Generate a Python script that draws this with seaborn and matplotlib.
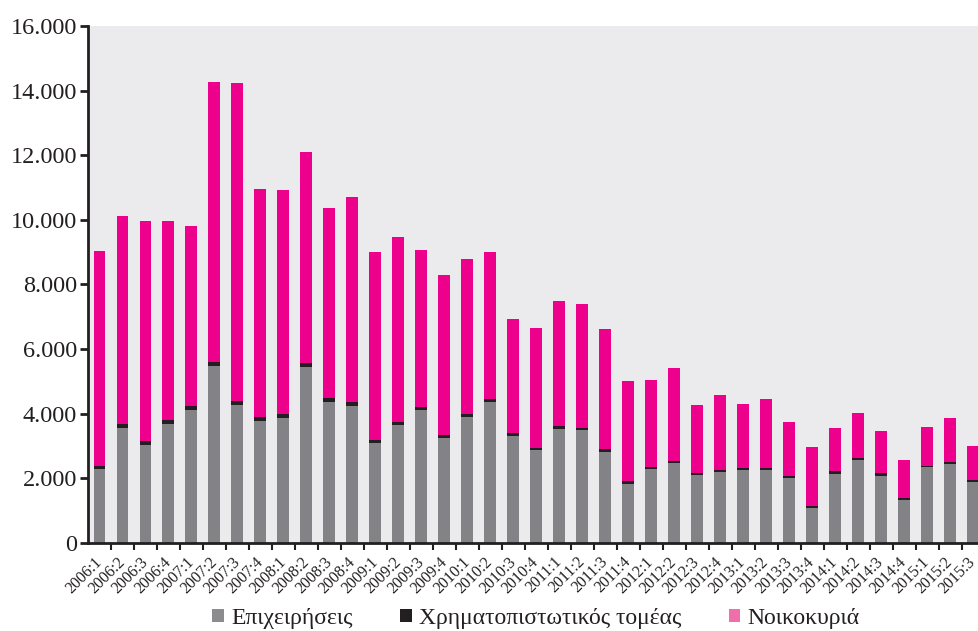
import numpy as np
import pandas as pd
import matplotlib
matplotlib.use("Agg")
import matplotlib.pyplot as plt
from matplotlib.patches import Patch
from matplotlib.ticker import FuncFormatter, FixedLocator
import seaborn as sns

# Τριμηνιαία στοιχεία (εκτίμηση από το διάγραμμα)
quarters = [f"{y}:{q}" for y in range(2006, 2016) for q in range(1, 5)][:39]

businesses = [2300, 3570, 3030, 3680, 4120, 5480, 4270, 3770, 3870, 5450,
              4370, 4230, 3095, 3660, 4115, 3260, 3910, 4350, 3310, 2870,
              3530, 3490, 2820, 1840, 2290, 2470, 2100, 2210, 2270, 2270,
              2010, 1090, 2150, 2560, 2080, 1330, 2340, 2440, 1890]

financial = [90, 100, 120, 120, 120, 120, 130, 130, 130, 130,
             120, 120, 105, 95, 95, 90, 90, 110, 100, 70,
             90, 70, 80, 70, 70, 80, 70, 60, 60, 60,
             60, 60, 70, 60, 80, 50, 50, 70, 70]

households = [6650, 6460, 6810, 6180, 5560, 8670, 9830, 7050, 6930, 6510,
              5880, 6370, 5800, 5725, 4850, 4940, 4780, 4530, 3520, 3700,
              3860, 3840, 3710, 3090, 2670, 2880, 2090, 2300, 1960, 2120,
              1670, 1810, 1340, 1400, 1310, 1190, 1190, 1360, 1040]

labels = ["Επιχειρήσεις", "Χρηματοπιστωτικός τομέας", "Νοικοκυριά"]
colors = ["#838387", "#231F20", "#EC008C"]
legend_colors = ["#8C8C8E", "#231F20", "#F06EA9"]

df = pd.DataFrame({"quarter": quarters, "bus": businesses,
                   "fin": financial, "hh": households})
df["lvl1"] = df["bus"]
df["lvl2"] = df["bus"] + df["fin"]
df["lvl3"] = df["lvl2"] + df["hh"]

sns.set_style("white", {"axes.facecolor": "#EBEBEE"})
plt.rcParams["font.family"] = ["Liberation Serif", "DejaVu Serif"]

fig, ax = plt.subplots(figsize=(9.79, 6.31), dpi=100)
fig.subplots_adjust(left=0.0899, right=1.0, top=0.9588, bottom=0.1395)

# Στοίβαξη: πρώτα το σύνολο, μετά τα κατώτερα επίπεδα από πάνω
for col, c in zip(["lvl3", "lvl2", "lvl1"], colors[::-1]):
    sns.barplot(data=df, x="quarter", y=col, color=c, saturation=1,
                width=0.52, errorbar=None, ax=ax, linewidth=0)

ax.set_xlim(-0.5, 38.26)
ax.set_ylim(0, 16000)
ax.set_xlabel("")
ax.set_ylabel("")

ax.yaxis.set_major_locator(FixedLocator(np.arange(0, 16001, 2000)))
ax.yaxis.set_major_formatter(FuncFormatter(lambda v, p: f"{v:,.0f}".replace(",", ".")))
ax.tick_params(axis="y", direction="out", length=6, width=2, color="#231F20",
               labelsize=17.5, labelcolor="#231F20", pad=2, left=True)

ax.set_xticks(range(len(quarters)))
ax.set_xticklabels(quarters, rotation=45, ha="right", va="center",
                   rotation_mode="anchor", fontsize=11.5, color="#231F20")
ax.tick_params(axis="x", which="major", length=0, pad=12)
ax.set_xticks(np.arange(0.5, len(quarters) - 1, 1), minor=True)
ax.tick_params(axis="x", which="minor", direction="out", length=5, width=1.5,
               color="#231F20", bottom=True)

for s in ["top", "right"]:
    ax.spines[s].set_visible(False)
for s in ["left", "bottom"]:
    ax.spines[s].set_color("#231F20")
    ax.spines[s].set_linewidth(2)

handles = [Patch(facecolor=c, edgecolor="none") for c in legend_colors]
fig.legend(handles, labels, loc="center", bbox_to_anchor=(0.5475, 0.02),
           ncol=3, frameon=False, fontsize=17, handlelength=0.5,
           handleheight=0.5, handletextpad=0.3, columnspacing=2.0,
           labelcolor="#231F20")

fig.savefig("out.png", dpi=100)
